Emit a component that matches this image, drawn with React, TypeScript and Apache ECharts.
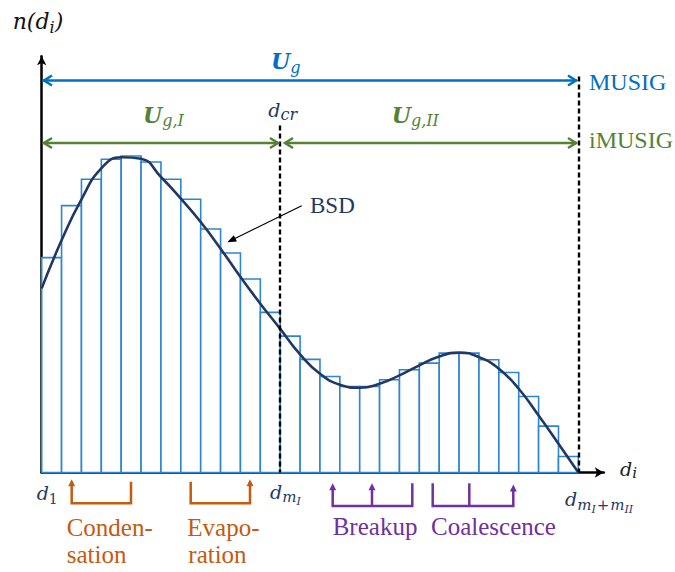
import React, { useEffect, useRef } from 'react';
import * as echarts from 'echarts';

// Number density per droplet-size class d_1 … d_{mI+mII} (y-axis units)
const binHeights = [
  214.7, 266.7, 293, 313, 316.3, 310.3, 293, 273, 243.3, 219.3, 193.3, 160,
  136.3, 113, 96, 86, 86, 92.7, 102.7, 109.3, 119.3, 119.3, 112.7, 100, 76, 46.3, 16,
];
// Continuous bubble size distribution (BSD), sampled along the size axis
const bsdX = [0, 1, 2, 3, 4, 5, 6, 7, 8, 9, 10, 11, 12, 13, 14, 15, 16, 17, 18, 19, 20, 21, 22, 23, 24, 25, 26, 27];
const bsdN = [184, 232, 273, 304, 315, 313.5, 295.3, 273.7, 250.3, 223.7, 195.3, 168.7, 143.5, 118, 98.7, 87.7, 84.7, 88.7, 97, 107, 116, 119.8, 115.3, 103.7, 83.7, 57, 28.7, 0];
// Group boundaries: critical diameter and last class
const dCr = 12;
const dEnd = 27;
const dCrLineTop = 346.8;
const dEndLineTop = 395.8;

const NAVY = '#1F3864';
const BLUE = '#0070C0';
const GREEN = '#548235';
const ORANGE = '#C55A11';
const PURPLE = '#7030A0';
const BAR = '#2E86D1';
const MATH = 'DejaVu Serif';
const TEXT = 'Liberation Serif';

let measureCtx: CanvasRenderingContext2D | null = null;
function textWidth(t: string, style: string, weight: string, size: number, family: string): number {
  if (!measureCtx) measureCtx = document.createElement('canvas').getContext('2d');
  measureCtx!.font = `${style} ${weight} ${size}px '${family}'`;
  return measureCtx!.measureText(t).width;
}

function label(
  x: number,
  base: number,
  text: string,
  size: number,
  color: string,
  family = TEXT,
  fontStyle = 'normal',
  fontWeight = 'normal',
) {
  return {
    type: 'text',
    x,
    y: base - 0.32 * size,
    z: 10,
    style: {
      text,
      fontFamily: family,
      fontSize: size,
      fontStyle,
      fontWeight,
      fill: color,
      verticalAlign: 'middle',
      align: 'left',
    },
  };
}

interface Seg {
  t: string;
  size: number;
  dy?: number;
  style?: string;
  weight?: string;
  gap?: number;
}

function mathRun(x: number, base: number, segs: Seg[], color: string) {
  const els: any[] = [];
  let cx = x;
  segs.forEach((s) => {
    const st = s.style ?? 'italic';
    const wt = s.weight ?? 'normal';
    els.push(label(cx, base + (s.dy ?? 0), s.t, s.size, color, MATH, st, wt));
    cx += textWidth(s.t, st, wt, s.size, MATH) + (s.gap ?? 0);
  });
  return els;
}

function seg(x1: number, y1: number, x2: number, y2: number, color: string, w: number) {
  return { type: 'line', z: 10, shape: { x1, y1, x2, y2 }, style: { stroke: color, lineWidth: w } };
}

function poly(points: number[][], color: string, w: number) {
  return { type: 'polyline', z: 10, shape: { points }, style: { stroke: color, lineWidth: w, fill: null } };
}

function head(tipX: number, tipY: number, dx: number, dy: number, len: number, half: number, color: string) {
  const bx = tipX - dx * len;
  const by = tipY - dy * len;
  const px = -dy * half;
  const py = dx * half;
  return {
    type: 'polygon',
    z: 10,
    shape: { points: [[tipX, tipY], [bx + px, by + py], [bx - px, by - py]] },
    style: { fill: color },
  };
}

function chevron(tipX: number, tipY: number, dir: number, color: string) {
  return poly([[tipX - dir * 8, tipY - 5], [tipX, tipY], [tipX - dir * 8, tipY + 5]], color, 2.5);
}

function buildGraphics() {
  const g: any[] = [];
  // Range arrows for MUSIG / iMUSIG
  g.push(seg(43, 80.5, 577, 80.5, BLUE, 2.5), chevron(44, 80.5, -1, BLUE), chevron(576, 80.5, 1, BLUE));
  g.push(seg(43, 143, 278, 143, GREEN, 2.5), chevron(44, 143, -1, GREEN), chevron(278, 143, 1, GREEN));
  g.push(seg(285, 143, 577, 143, GREEN, 2.5), chevron(285, 143, -1, GREEN), chevron(576, 143, 1, GREEN));

  // Axis and group labels
  g.push(...mathRun(12.7, 28.3, [{ t: 'n(d', size: 22 }, { t: 'i', size: 16, dy: 4 }, { t: ')', size: 22 }], '#111'));
  g.push(...mathRun(271, 68.5, [{ t: 'U', size: 22, weight: 'bold' }, { t: 'g', size: 16, dy: 4 }], BLUE));
  g.push(...mathRun(143, 121.7, [{ t: 'U', size: 22, weight: 'bold' }, { t: 'g,I', size: 16, dy: 4 }], GREEN));
  g.push(...mathRun(391.7, 121.7, [{ t: 'U', size: 22, weight: 'bold' }, { t: 'g,II', size: 16, dy: 4 }], GREEN));
  g.push(...mathRun(268.3, 115.7, [{ t: 'd', size: 19 }, { t: 'cr', size: 16, dy: 4 }], NAVY));
  g.push(label(589, 90, 'MUSIG', 24, BLUE));
  g.push(label(589, 148, 'iMUSIG', 24, GREEN));
  g.push(label(310, 213.3, 'BSD', 23, NAVY));
  g.push(...mathRun(620, 475, [{ t: 'd', size: 19 }, { t: 'i', size: 15, dy: 3 }], '#222'));
  g.push(...mathRun(36.7, 499, [{ t: 'd', size: 19 }, { t: '1', size: 14, dy: 4, style: 'normal' }], NAVY));
  g.push(...mathRun(270, 498, [{ t: 'd', size: 19 }, { t: 'm', size: 15, dy: 4 }, { t: 'I', size: 11, dy: 7 }], NAVY));
  g.push(
    ...mathRun(
      565,
      505,
      [
        { t: 'd', size: 19 },
        { t: 'm', size: 15, dy: 5 },
        { t: 'I', size: 11, dy: 8, gap: 1 },
        { t: '+', size: 15, dy: 5, style: 'normal', gap: 1 },
        { t: 'm', size: 15, dy: 5 },
        { t: 'II', size: 11, dy: 8 },
      ],
      NAVY,
    ),
  );

  // BSD pointer
  const dx = -0.8975;
  const dy = 0.4415;
  g.push(seg(301.7, 205.7, 227.3 - dx * 8.5, 242.3 - dy * 8.5, '#000', 1.2));
  g.push(head(227.3, 242.3, dx, dy, 9, 3.5, '#000'));

  // Condensation / evaporation brackets
  g.push(poly([[71.7, 485], [71.7, 503.3], [131, 503.3], [131, 481.7]], ORANGE, 2.5));
  g.push(head(71.7, 479.3, 0, -1, 7, 3.5, ORANGE));
  g.push(poly([[190.7, 481.7], [190.7, 503.3], [250, 503.3], [250, 485]], ORANGE, 2.5));
  g.push(head(250, 479.3, 0, -1, 7, 3.5, ORANGE));
  g.push(label(66.7, 535.5, 'Conden-', 25, ORANGE));
  g.push(label(66.7, 562, 'sation', 25, ORANGE));
  g.push(label(187.3, 535.5, 'Evapo-', 25, ORANGE));
  g.push(label(188.3, 562, 'ration', 25, ORANGE));

  // Breakup / coalescence brackets
  g.push(poly([[332.7, 489], [332.7, 506], [412.3, 506], [412.3, 483.3]], PURPLE, 2.5));
  g.push(seg(372, 506, 372, 489, PURPLE, 2.5));
  g.push(head(332.7, 483.3, 0, -1, 7, 3.5, PURPLE), head(372, 483.3, 0, -1, 7, 3.5, PURPLE));
  g.push(poly([[432.7, 483.3], [432.7, 506], [513.3, 506], [513.3, 490]], PURPLE, 2.5));
  g.push(seg(469.3, 483.3, 469.3, 506, PURPLE, 2.5));
  g.push(head(513.3, 484.5, 0, -1, 7, 3.5, PURPLE));
  g.push(label(332.7, 534.3, 'Breakup', 25, PURPLE));
  g.push(label(431, 534.3, 'Coalescence', 25, PURPLE));
  return g;
}

export default function App() {
  const ref = useRef<HTMLDivElement>(null);

  useEffect(() => {
    if (!ref.current) return;
    const chart = echarts.init(ref.current, null, { renderer: 'svg' });

    const bins = binHeights.map((h, i) => [i, i + 1, h]);
    const curve = bsdX.map((x, i) => [x, bsdN[i]]);

    const axisLine = (size: number[]) => ({
      show: true,
      symbol: ['none', 'arrow'],
      symbolSize: size,
      lineStyle: { color: '#000', width: 2.5 },
    });

    chart.setOption({
      animation: false,
      backgroundColor: '#fff',
      grid: { left: 41.7, right: 71.2, top: 56.2, bottom: 99.5, containLabel: false },
      xAxis: {
        type: 'value',
        min: 0,
        max: 28.28,
        axisLine: axisLine([8, 9]),
        axisTick: { show: false },
        axisLabel: { show: false },
        splitLine: { show: false },
      },
      yAxis: {
        type: 'value',
        min: 0,
        max: 416,
        axisLine: axisLine([7, 9]),
        axisTick: { show: false },
        axisLabel: { show: false },
        splitLine: { show: false },
      },
      series: [
        {
          type: 'custom',
          data: bins,
          z: 2,
          renderItem: (_params: any, api: any) => {
            const p0 = api.coord([api.value(0), api.value(2)]);
            const p1 = api.coord([api.value(1), 0]);
            return {
              type: 'rect',
              shape: { x: p0[0], y: p0[1], width: p1[0] - p0[0], height: p1[1] - p0[1] },
              style: { fill: '#fff', stroke: BAR, lineWidth: 1.6 },
            };
          },
        },
        {
          type: 'line',
          data: curve,
          z: 3,
          smooth: 0.5,
          showSymbol: false,
          lineStyle: { color: NAVY, width: 2.6 },
          markLine: {
            silent: true,
            symbol: ['none', 'none'],
            label: { show: false },
            lineStyle: { color: '#000', width: 2.4, type: [5, 3] },
            data: [
              [{ coord: [dCr, dCrLineTop] }, { coord: [dCr, 0] }],
              [{ coord: [dEnd, dEndLineTop] }, { coord: [dEnd, 0] }],
            ],
          },
        },
      ],
      graphic: buildGraphics(),
    });

    return () => chart.dispose();
  }, []);

  return (
    <div
      ref={ref}
      style={{ position: 'fixed', left: 0, top: 0, width: 675, height: 572, background: '#fff' }}
    />
  );
}
